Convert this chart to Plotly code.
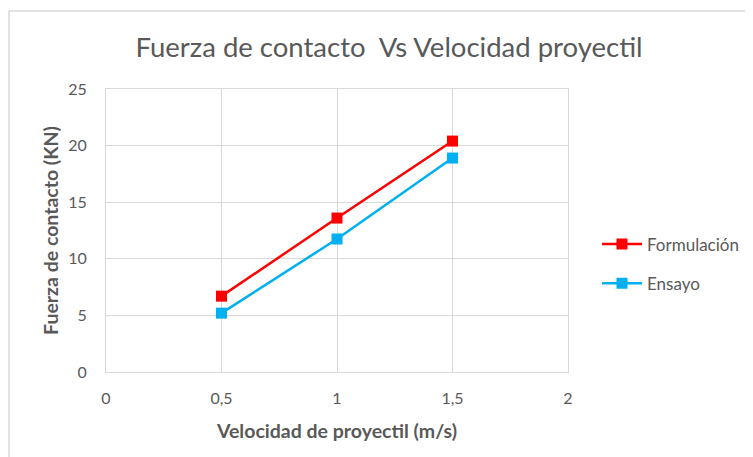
import plotly.graph_objects as go

velocidad = [0.5, 1.0, 1.5]
formulacion = [6.7, 13.6, 20.4]
ensayo = [5.2, 11.75, 18.9]
x_ticks = [0, 0.5, 1, 1.5, 2]
x_tick_labels = ["0", "0,5", "1", "1,5", "2"]
y_ticks = [0, 5, 10, 15, 20, 25]

FONT = "Lato, 'Open Sans', sans-serif"
GRAY = "#595959"

# page body has an 8px margin, so the figure is placed at (8, 8)
W, H = 745, 449

fig = go.Figure()
fig.add_trace(go.Scatter(
    x=velocidad, y=formulacion, name="Formulación", mode="lines+markers",
    legendgroup="f",
    line=dict(color="#ff0000", width=2.5),
    marker=dict(symbol="square", size=11, color="#ff0000"),
))
fig.add_trace(go.Scatter(
    x=velocidad, y=ensayo, name="Ensayo", mode="lines+markers",
    legendgroup="e",
    line=dict(color="#00b0f0", width=2.5),
    marker=dict(symbol="square", size=11, color="#00b0f0"),
))

fig.update_layout(
    width=W, height=H,
    margin=dict(l=98, r=185, t=81, b=85, autoexpand=False),
    paper_bgcolor="white", plot_bgcolor="white",
    separators=",.",
    font=dict(family=FONT, color=GRAY, size=16),
    title=dict(text="Fuerza de contacto  Vs Velocidad proyectil",
               x=(389 - 8) / W, xanchor="center", y=1 - (47 - 8) / H, yanchor="middle",
               font=dict(size=27.5, color=GRAY, family=FONT)),
    xaxis=dict(range=[0, 2], tickvals=x_ticks, ticktext=x_tick_labels,
               showgrid=True, gridcolor="#d9d9d9", gridwidth=1,
               showline=True, linecolor="#d9d9d9", linewidth=1, mirror=True,
               zeroline=False, ticks="", ticklabelstandoff=12,
               tickfont=dict(size=16, color=GRAY),
               title=dict(text="<b>Velocidad de proyectil (m/s)</b>",
                          font=dict(size=19.5, color=GRAY), standoff=18)),
    yaxis=dict(range=[0, 25], tickvals=y_ticks,
               showgrid=True, gridcolor="#d9d9d9", gridwidth=1,
               showline=True, linecolor="#d9d9d9", linewidth=1, mirror=True,
               zeroline=False, ticks="", ticklabelstandoff=15,
               tickfont=dict(size=16, color=GRAY),
               title=dict(text="<b>Fuerza de contacto (KN)</b>",
                          font=dict(size=19.5, color=GRAY), standoff=4)),
    legend=dict(xref="container", yref="container",
                x=(597 - 8) / W, y=1 - (264 - 8) / H,
                xanchor="left", yanchor="middle",
                font=dict(size=17, color=GRAY), tracegroupgap=14,
                itemwidth=40, bgcolor="rgba(0,0,0,0)"),
    showlegend=True,
)

# chart frame (left and top edges visible in reference)
fig.add_shape(type="line", xref="paper", yref="paper",
              x0=-0.21, x1=1.45, y0=1.276, y1=1.276,
              line=dict(color="#d9d9d9", width=1.5))
fig.add_shape(type="line", xref="paper", yref="paper",
              x0=-0.21, x1=-0.21, y0=-0.3, y1=1.276,
              line=dict(color="#d9d9d9", width=1.5))

fig.write_html("out.html")
